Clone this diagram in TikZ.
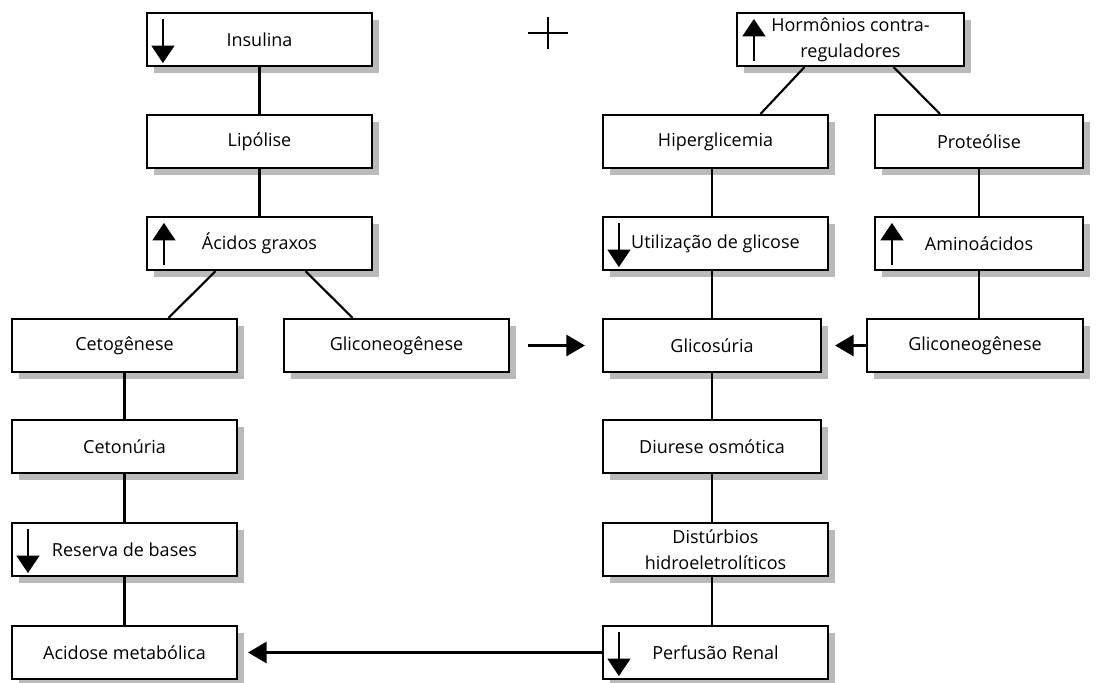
\documentclass[tikz,border=0pt]{standalone}
\usepackage{fontspec}
\setmainfont{Open Sans}
\usetikzlibrary{arrows.meta,calc}
\newcommand\icondown[1]{\draw[iconline,-{Triangle[length=13pt,width=17pt]}] ($(#1.north west)+(17,7)$) -- ($(#1.south west)+(17,-4)$);}
\newcommand\iconup[1]{\draw[iconline,-{Triangle[length=13pt,width=17pt]}] ($(#1.south west)+(18,-6)$) -- ($(#1.north west)+(18,7)$);}
% \bx{name}{x}{y}{width px}{text}
\newcommand\bx[5]{%
  \fill[boxshade] (#2,#3) ++({-#4/2+7},{-26.5+7}) rectangle ++(#4,53);
  \node[box, minimum width={#4*0.75pt}] (#1) at (#2,#3) {#5};}
\begin{document}
\begin{tikzpicture}[x=0.75pt,y=-0.75pt,
  box/.style={draw=black, line width=1.6pt, fill=white, minimum height=39.75pt, inner sep=0pt, align=center, font=\fontsize{13.5}{19.5}\selectfont},
  boxshade/.style={fill=black, fill opacity=0.27},
  conn/.style={line width=1.6pt},
  arr/.style={line width=1.6pt, -{Triangle[length=14pt,width=16pt]}},
  iconline/.style={line width=1.6pt}
]
\useasboundingbox (0,0) rectangle (1096,682);
% left branch
\bx{ins}{259.5}{39.5}{225}{Insulina}
\bx{lip}{259.5}{141.5}{225}{Lipólise}
\bx{aci}{259.5}{243.5}{225}{Ácidos graxos}
\bx{ceto}{124.5}{345.5}{225}{Cetogênese}
\bx{glL}{396.5}{345.5}{225}{Gliconeogênese}
\bx{cetu}{124.5}{446.5}{225}{Cetonúria}
\bx{res}{124.5}{549.5}{225}{Reserva de bases}
\bx{acid}{124.5}{652.5}{225}{Acidose metabólica}
% right branch
\bx{hor}{850.5}{39.5}{227}{Hormônios contra-\\reguladores}
\bx{hip}{715.5}{141.5}{225}{Hiperglicemia}
\bx{pro}{979}{141.5}{208}{Proteólise}
\bx{uti}{715.5}{243.5}{225}{Utilização de glicose}
\bx{ami}{979}{243.5}{208}{Aminoácidos}
\bx{glc}{712}{345.5}{218}{Glicosúria}
\bx{glR}{975}{345.5}{216}{Gliconeogênese}
\bx{diu}{712}{446.5}{218}{Diurese osmótica}
\bx{dis}{715.5}{549.5}{225}{Distúrbios\\hidroeletrolíticos}
\bx{per}{715.5}{652.5}{225}{Perfusão Renal}
% icons
\icondown{ins}
\iconup{aci}
\icondown{res}
\iconup{hor}
\icondown{uti}
\iconup{ami}
\icondown{per}
% connectors
\draw[conn] (ins.south) -- (ins.south |- lip.north);
\draw[conn] (lip.south) -- (lip.south |- aci.north);
\draw[conn] ($(aci.south)+(-44,0)$) -- ($(ceto.north)+(44,0)$);
\draw[conn] ($(aci.south)+(46,0)$) -- ($(glL.north)+(-44,0)$);
\draw[conn] (ceto.south) -- (ceto.south |- cetu.north);
\draw[conn] (cetu.south) -- (cetu.south |- res.north);
\draw[conn] (res.south) -- (res.south |- acid.north);
\draw[conn] ($(hor.south)+(-46,0)$) -- ($(hip.north)+(45,0)$);
\draw[conn] ($(hor.south)+(43,0)$) -- ($(pro.north)+(-39,0)$);
\draw[conn] (glc.north |- hip.south) -- (glc.north |- uti.north);
\draw[conn] (glc.north |- uti.south) -- (glc.north);
\draw[conn] (pro.south) -- (pro.south |- ami.north);
\draw[conn] (ami.south) -- (ami.south |- glR.north);
\draw[conn] (glc.south) -- (glc.south |- diu.north);
\draw[conn] (diu.south) -- (diu.south |- dis.north);
\draw[conn] (diu.south |- dis.south) -- (diu.south |- per.north);
\coordinate (gstart) at ($(glL.east)+(18,0)$);
\draw[arr, shorten >=12.75pt] (gstart) -- (glc.west);
\draw[arr, shorten >=9.75pt] (glR.west) -- (glc.east);
\draw[arr, shorten >=7.5pt] (per.west) -- (acid.east);
% plus sign
\draw[line width=1.4pt] (528,33) -- (568,33) (548,17) -- (548,49);
\end{tikzpicture}
\end{document}
